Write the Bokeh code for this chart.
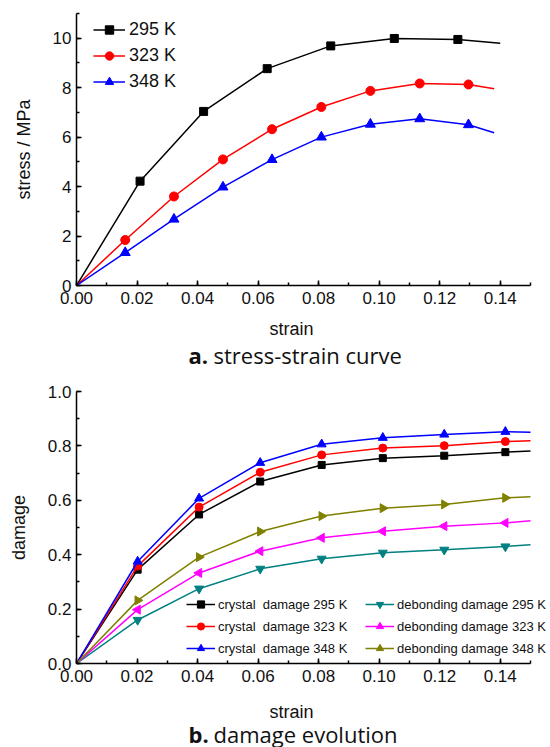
import math

from bokeh.plotting import figure
from bokeh.layouts import column
from bokeh.models import (Range1d, SingleIntervalTicker, PrintfTickFormatter,
                          Legend, LegendItem, Label)
from bokeh.embed import file_html
from bokeh.resources import INLINE

# ---------------- stress-strain curves ----------------
strain_295 = [0.0, 0.021, 0.042, 0.063, 0.084, 0.105, 0.126]
stress_295 = [0.0, 4.22, 7.04, 8.77, 9.69, 9.99, 9.95]
tail_295 = (0.140, 9.80)

strain_323 = [0.0, 0.0161, 0.0322, 0.0484, 0.0646, 0.0809, 0.0971, 0.1134, 0.1295]
stress_323 = [0.0, 1.84, 3.60, 5.10, 6.32, 7.22, 7.87, 8.17, 8.13]
tail_323 = (0.138, 7.96)

strain_348 = [0.0, 0.0161, 0.0322, 0.0484, 0.0646, 0.0809, 0.0971, 0.1134, 0.1295]
stress_348 = [0.0, 1.33, 2.68, 3.98, 5.09, 6.00, 6.52, 6.74, 6.50]
tail_348 = (0.138, 6.18)

# ---------------- damage evolution ----------------
strain_dmg = [0.0, 0.0202, 0.0405, 0.0607, 0.081, 0.1012, 0.1215, 0.1417]
tail_strain_dmg = 0.15

crystal_295 = [0.0, 0.345, 0.548, 0.669, 0.730, 0.755, 0.764, 0.777]
crystal_323 = [0.0, 0.358, 0.575, 0.703, 0.767, 0.792, 0.801, 0.816]
crystal_348 = [0.0, 0.375, 0.607, 0.738, 0.806, 0.830, 0.842, 0.852]
debond_295 = [0.0, 0.160, 0.275, 0.348, 0.385, 0.407, 0.418, 0.430]
debond_323 = [0.0, 0.198, 0.333, 0.413, 0.462, 0.486, 0.505, 0.517]
debond_348 = [0.0, 0.232, 0.391, 0.485, 0.542, 0.571, 0.585, 0.609]
tail_dmg = {"crystal_295": 0.781, "crystal_323": 0.819, "crystal_348": 0.850,
            "debond_295": 0.437, "debond_323": 0.525, "debond_348": 0.613}

TICK_FONT = "Liberation Sans"
CAPTION_FONT = "Open Sans"
INK = "#111111"

STRAIN_MAX = 0.15          # end of the drawn strain axis
FRAME_LEFT = 76            # left border shared by every row of the column
FRAME_W = 474              # frame runs to the right page edge so legends can use it
AXIS_W = 454               # width actually covered by the strain axis


def make_panel(border_top, y_end, y_step, y_fmt, y_label):
    x_end = STRAIN_MAX * FRAME_W / AXIS_W
    p = figure(frame_width=FRAME_W, frame_height=272, title=None,
               min_border_left=FRAME_LEFT, min_border_right=0,
               min_border_top=border_top, min_border_bottom=30,
               x_range=Range1d(0, x_end), y_range=Range1d(0, y_end),
               output_backend="svg", toolbar_location=None)
    p.grid.visible = False
    p.outline_line_color = None
    p.background_fill_color = "white"
    p.border_fill_color = "white"

    p.xaxis.ticker = SingleIntervalTicker(interval=0.02, num_minor_ticks=2)
    p.xaxis.formatter = PrintfTickFormatter(format="%.2f")
    p.xaxis.bounds = (0, STRAIN_MAX + 1e-4)
    p.yaxis.ticker = SingleIntervalTicker(interval=y_step, num_minor_ticks=2)
    p.yaxis.formatter = PrintfTickFormatter(format=y_fmt)
    p.yaxis.axis_label = y_label

    for ax in (p.xaxis[0], p.yaxis[0]):
        ax.axis_line_width = 1.5
        ax.axis_line_color = "black"
        ax.major_tick_in = 5
        ax.major_tick_out = 0
        ax.minor_tick_in = 3
        ax.minor_tick_out = 0
        ax.major_tick_line_width = 1.5
        ax.minor_tick_line_width = 1.5
        ax.major_label_text_font = TICK_FONT
        ax.major_label_text_font_size = "17px"
        ax.major_label_text_color = INK
        ax.axis_label_text_font = TICK_FONT
        ax.axis_label_text_font_size = "18px"
        ax.axis_label_text_font_style = "normal"
        ax.axis_label_text_color = INK
    p.xaxis.major_label_standoff = 6
    p.yaxis.major_label_standoff = 5
    p.yaxis.axis_label_standoff = 16
    return p


def make_caption(height, label_y, caption_y, letter, text):
    """Strip under a panel holding the strain axis title and the panel caption.

    Positions are in pixels from the strip's frame, which the column lines up
    with the panel frames (FRAME_LEFT from the page edge)."""
    c = figure(frame_width=FRAME_W, frame_height=height, title=None,
               x_range=Range1d(0, FRAME_W), y_range=Range1d(0, height),
               x_axis_type=None, y_axis_type=None,
               min_border_left=FRAME_LEFT, min_border_right=0, min_border_top=0,
               min_border_bottom=0, output_backend="svg", toolbar_location=None)
    c.grid.visible = False
    c.outline_line_color = None
    c.add_layout(Label(x=291 - FRAME_LEFT, y=label_y, x_units="screen", y_units="screen",
                       text="strain", text_font=TICK_FONT, text_font_size="18px",
                       text_align="center", text_baseline="middle", text_color=INK))
    c.add_layout(Label(x=188 - FRAME_LEFT, y=caption_y, x_units="screen", y_units="screen",
                       text=letter, text_font=CAPTION_FONT,
                       text_font_style="bold", text_font_size="22px",
                       text_baseline="middle", text_color=INK))
    c.add_layout(Label(x=213 - FRAME_LEFT, y=caption_y, x_units="screen", y_units="screen",
                       text=text, text_font=CAPTION_FONT,
                       text_font_size="22px", text_baseline="middle",
                       text_color=INK))
    return c


# ---------- panel a: stress-strain ----------
p1 = make_panel(13, 11, 2, "%d", "stress / MPa")

series_a = [
    ("295 K", strain_295, stress_295, tail_295, "black", "square", 8),
    ("323 K", strain_323, stress_323, tail_323, "red", "circle", 9),
    ("348 K", strain_348, stress_348, tail_348, "blue", "triangle", 10),
]
items_a = []
for label, xs, ys, tail, color, marker, size in series_a:
    r_line = p1.line(xs + [tail[0]], ys + [tail[1]], line_color=color, line_width=1.5)
    r_pts = p1.scatter(xs[1:], ys[1:], marker=marker, size=size,
                       fill_color=color, line_color=color)
    items_a.append(LegendItem(label=label, renderers=[r_line, r_pts]))

leg_a = Legend(items=items_a, location=(17, 193), orientation="vertical",
               border_line_color=None, background_fill_alpha=0,
               padding=0, margin=0, glyph_width=32, glyph_height=21,
               label_height=21, spacing=5, label_standoff=4,
               label_text_font=TICK_FONT, label_text_font_size="18px",
               label_text_color=INK)
p1.add_layout(leg_a)
cap1 = make_caption(55, 42, 16, "a.", "stress-strain curve")

# ---------- panel b: damage evolution ----------
p2 = make_panel(21, 1.0, 0.2, "%.1f", "damage")

series_b = [
    ("crystal  damage 295 K", crystal_295, "crystal_295", "black", "square", 0.0, 7),
    ("crystal  damage 323 K", crystal_323, "crystal_323", "red", "circle", 0.0, 8),
    ("crystal  damage 348 K", crystal_348, "crystal_348", "blue", "triangle", 0.0, 9),
    ("debonding damage 295 K", debond_295, "debond_295", "#008080", "inverted_triangle", 0.0, 9),
    ("debonding damage 323 K", debond_323, "debond_323", "#ff00ff", "triangle", math.pi / 2, 9),
    ("debonding damage 348 K", debond_348, "debond_348", "#808000", "triangle", -math.pi / 2, 9),
]
items_b = []
for label, ys, key, color, marker, angle, size in series_b:
    r_line = p2.line(strain_dmg + [tail_strain_dmg], ys + [tail_dmg[key]],
                     line_color=color, line_width=1.5)
    r_pts = p2.scatter(strain_dmg[1:], ys[1:], marker=marker, angle=angle,
                       size=size, fill_color=color, line_color=color)
    items_b.append(LegendItem(label=label, renderers=[r_line, r_pts]))

leg_b = Legend(items=items_b, location=(110, 6), orientation="vertical",
               nrows=3, border_line_color=None, background_fill_alpha=0,
               padding=0, margin=0, glyph_width=29, glyph_height=18,
               label_height=18, label_width=143, spacing=4, label_standoff=3,
               label_text_font=TICK_FONT, label_text_font_size="13px",
               label_text_color=INK)
p2.add_layout(leg_b)
cap2 = make_caption(54, 36, 14, "b.", "damage evolution")

layout = column(p1, cap1, p2, cap2, spacing=0)
open("out.html", "w").write(file_html(layout, INLINE))
